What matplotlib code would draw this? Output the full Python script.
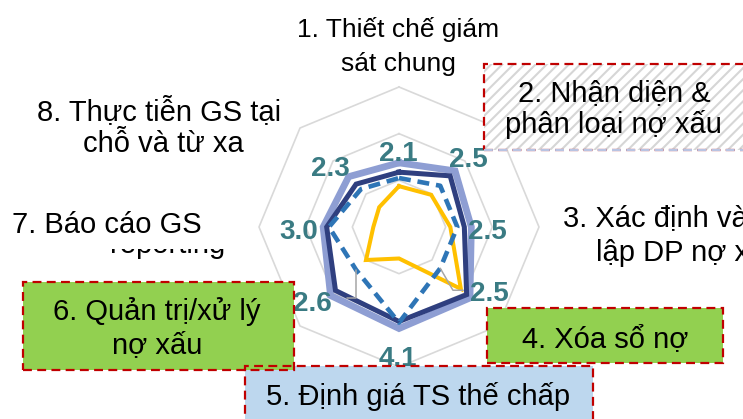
import numpy as np
import matplotlib
matplotlib.use('Agg')
import matplotlib.pyplot as plt
from matplotlib.patches import Rectangle

plt.rcParams['font.family'] = ['Liberation Sans', 'DejaVu Sans']
plt.rcParams['hatch.linewidth'] = 1.5

W, H = 743, 419

# ---------------- data ----------------
categories = [
    "1. Thiết chế giám\nsát chung",
    "2. Nhận diện &\nphân loại nợ xấu",
    "3. Xác định và\nlập DP nợ xấu",
    "4. Xóa sổ nợ",
    "5. Định giá TS thế chấp",
    "6. Quản trị/xử lý\nnợ xấu",
    "7. Báo cáo GS",
    "8. Thực tiễn GS tại\nchỗ và từ xa",
]
hidden_label = "reporting"
outer_series = [2.75, 3.4, 3.1, 4.3, 4.35, 4.15, 3.25, 3.05]
navy_series = [2.35, 3.1, 2.8, 4.1, 4.05, 3.85, 3.1, 2.6]
dashed_series = [2.1, 2.5, 2.5, 2.5, 4.1, 2.6, 3.0, 2.3]
yellow_series = [1.75, 1.95, 2.2, 3.75, 1.35, 2.0, 1.1, 1.2]
grid_levels = [2, 4, 6]
r_max = 6

# ---------------- helpers ----------------
def fx(x):
    return x / W

def fy(y):
    return 1 - y / H

fig = plt.figure(figsize=(W / 100, H / 100), dpi=100)

cx, cy, R = 399, 227, 140
ax = fig.add_axes([fx(cx - R), fy(cy + R), 2 * R / W, 2 * R / H], projection='polar')
ax.set_theta_offset(np.pi / 2)
ax.set_theta_direction(-1)
ax.set_ylim(0, r_max)
ax.grid(False)
ax.set_xticks([])
ax.set_yticks([])
ax.spines['polar'].set_visible(False)
ax.patch.set_alpha(0)
ax.set_zorder(0)

n = len(categories)
angles = np.linspace(0, 2 * np.pi, n, endpoint=False)
ang_c = np.append(angles, angles[0])

def closed(v):
    return np.append(v, v[0])

for lv in grid_levels:
    ax.plot(ang_c, [lv] * (n + 1), color='#D9D9D9', lw=1.2, zorder=1, clip_on=False)

ax.plot(ang_c, closed(outer_series), color='#8E9ED3', lw=4.9, zorder=2,
        solid_joinstyle='miter', clip_on=False)
ax.plot(ang_c, closed(navy_series), color='#2F3F7F', lw=3.6, zorder=3,
        solid_joinstyle='miter', clip_on=False)
ax.plot(ang_c, closed(yellow_series), color='#FFC000', lw=2.9, zorder=4,
        solid_joinstyle='miter', clip_on=False)
ax.plot(ang_c, closed(dashed_series), color='#2E75B6', lw=3.3, zorder=5,
        linestyle=(0, (2.6, 1.5)), clip_on=False)

# value labels (dashed series)
label_offsets = [(-1, 17), (28, 19), (30, -12), (49, -33),
                 (-1, -43), (-44, -41), (-30, -12), (-31, 13)]
for a, v, (dx, dy) in zip(angles, dashed_series, label_offsets):
    ax.annotate(f"{v:.1f}", xy=(a, v), xytext=(dx, dy), textcoords='offset pixels',
                ha='center', va='baseline', fontsize=20, fontweight='bold',
                color='#3A7B83', zorder=6, annotation_clip=False)

# leader lines
leaders = {3: ((23, -22), 0, -60), 5: ((-9.5, -28), 0, 90)}
for i, ((dx, dy), aA, aB) in leaders.items():
    ax.annotate('', xy=(angles[i], dashed_series[i]), xytext=(dx, dy),
                textcoords='offset pixels', annotation_clip=False,
                arrowprops=dict(arrowstyle='-', color='#A6A6A6', lw=1.1,
                                shrinkA=0, shrinkB=0,
                                connectionstyle=f'angle,angleA={aA},angleB={aB},rad=0'),
                zorder=6)

# ---------------- boxes ----------------
def box(x0, y0, x1, y1, fc, hatch=None, hatch_color=None, bottom_color=None):
    if hatch:
        fig.add_artist(Rectangle((fx(x0), fy(y1)), fx(x1) - fx(x0), fy(y0) - fy(y1),
                                 transform=fig.transFigure, facecolor=fc,
                                 edgecolor=hatch_color, lw=0, hatch=hatch, zorder=1))
    else:
        fig.add_artist(Rectangle((fx(x0), fy(y1)), fx(x1) - fx(x0), fy(y0) - fy(y1),
                                 transform=fig.transFigure, facecolor=fc,
                                 edgecolor='none', zorder=1))
    fig.add_artist(Rectangle((fx(x0), fy(y1)), fx(x1) - fx(x0), fy(y0) - fy(y1),
                             transform=fig.transFigure, facecolor='none',
                             edgecolor='#C00000', lw=1.6, linestyle=(0, (4, 2.4)),
                             zorder=1.5))
    if bottom_color:
        fig.add_artist(plt.Line2D([fx(x0), fx(x1)], [fy(y1), fy(y1)],
                                  transform=fig.transFigure, color=bottom_color,
                                  lw=1.6, linestyle=(0, (4, 2.4)), zorder=1.6))

box(484, 64, 770, 150, 'white', hatch='///', hatch_color='#D6D6D6', bottom_color='#B9C3E2')
box(487, 308, 722.5, 362.5, '#92D050')
box(245, 366, 593, 440, '#BDD7EE')
box(22.5, 281.5, 293.5, 370, '#92D050')

# hidden english label partly covered by white label box of category 7
fig.text(fx(110), fy(253), hidden_label, ha='left', va='baseline', fontsize=21,
         color='black', zorder=2)
fig.add_artist(Rectangle((fx(100), fy(248.5)), fx(245) - fx(100), fy(200) - fy(248.5),
                         transform=fig.transFigure, facecolor='white',
                         edgecolor='none', zorder=2.5))

# ---------------- category labels ----------------
line_pos = [
    [(398, 37, 'center'), (398, 71, 'center')],
    [(614, 101.5, 'center'), (613, 133, 'center')],
    [(563, 226.5, 'left'), (596, 261, 'left')],
    [(605, 347, 'center')],
    [(418.5, 405, 'center')],
    [(157, 320, 'center'), (157.5, 352.7, 'center')],
    [(11.7, 233.3, 'left')],
    [(159, 120, 'center'), (163, 151.7, 'center')],
]
for i, (cat, poss) in enumerate(zip(categories, line_pos)):
    fs = 19 if i == 0 else 21
    for line, (x, y, ha) in zip(cat.split('\n'), poss):
        fig.text(fx(x), fy(y), line, ha=ha, va='baseline', fontsize=fs,
                 color='black', zorder=3)

fig.savefig('out.png', dpi=100)
